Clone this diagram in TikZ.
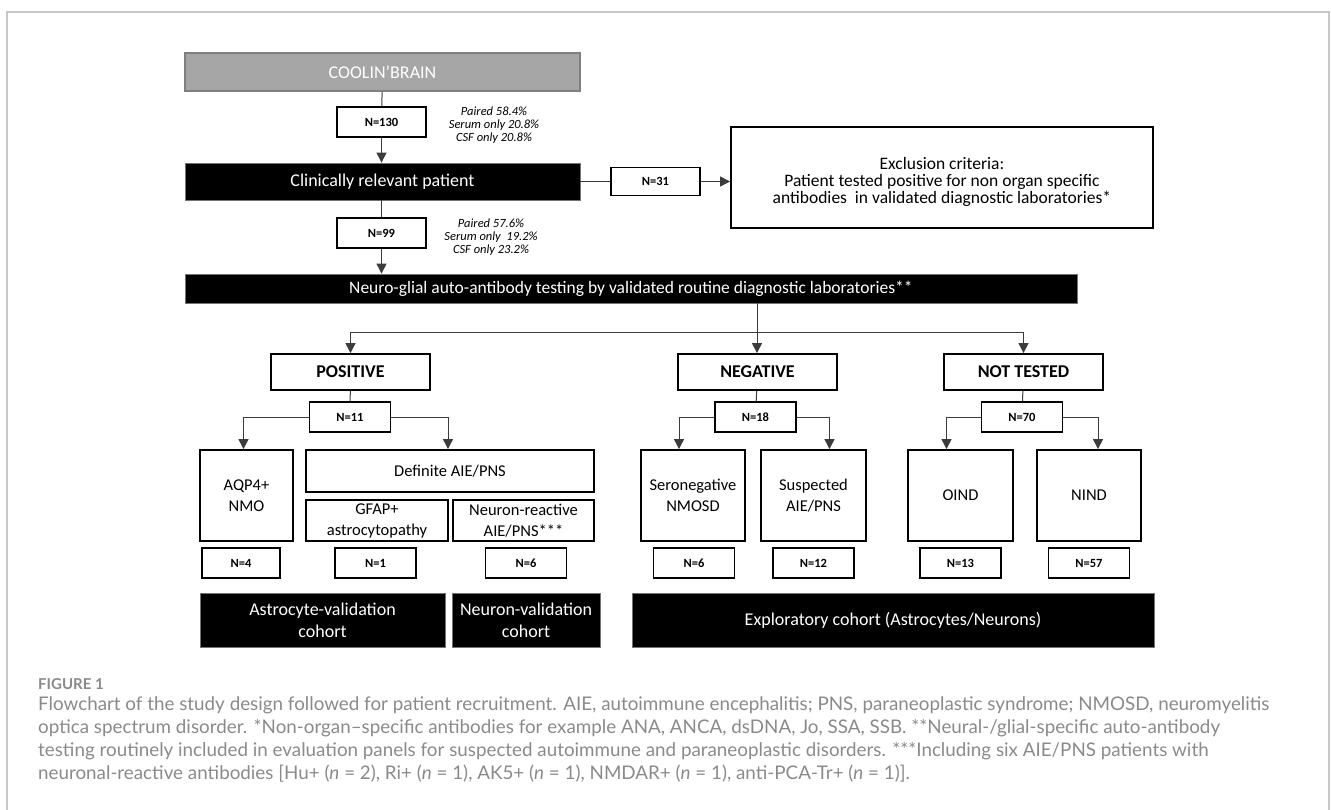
\documentclass[tikz,border=0pt]{standalone}
\usepackage{fontspec}
\setmainfont{Carlito}
\newfontfamily\capfont{Lato}
\usetikzlibrary{arrows.meta}
\definecolor{framegray}{RGB}{200,200,200}
\definecolor{boxgray}{RGB}{166,166,166}
\definecolor{edgegray}{RGB}{127,127,127}
\definecolor{linegray}{RGB}{60,60,60}
\definecolor{capgray}{RGB}{138,138,138}

\begin{document}
\begin{tikzpicture}[x=1pt,y=-1pt,
    every node/.style={inner sep=0pt, align=center},
    wbox/.style={draw=black, line width=1.8pt, fill=white, font=\fontsize{16.5}{21}\selectfont},
    nbox/.style={wbox, minimum width=81pt, minimum height=30pt, font=\bfseries\fontsize{12.5}{15}\selectfont},
    catbox/.style={wbox, minimum width=159pt, minimum height=36pt, font=\bfseries\fontsize{18}{21}\selectfont},
    leaf/.style={wbox, minimum height=91pt},
    bbar/.style={fill=black, draw=black!55, line width=0.8pt, text=white, font=\fontsize{18}{22}\selectfont},
    note/.style={font=\itshape\fontsize{12.5}{13}\selectfont},
    link/.style={draw=linegray, line width=1pt},
    arr/.style={link, -{Triangle[length=10pt,width=10pt]}}]
    \useasboundingbox (0,0) rectangle (1331,810);
    \draw [framegray, line width=1.5pt] (7,810) -- (7,12) -- (1329,12) -- (1329,810);
    % top column
    \node [fill=boxgray, draw=edgegray, line width=2pt, text=white, minimum width=395pt, minimum height=38pt, font=\fontsize{18}{22}\selectfont] (coolin) at (382.5,72) {COOLIN’BRAIN};
    \node [nbox, minimum width=89pt] (n130) at (381.5,122) {N=130};
    \node [note] (pctA) at (494,125) {Paired 58.4\%\\Serum only 20.8\%\\CSF only 20.8\%};
    \node [bbar, minimum width=395pt, minimum height=37pt] (clin) at (382.5,181.5) {Clinically relevant patient};
    \node [nbox, minimum width=89pt, minimum height=28pt] (n31) at (655.5,181.5) {N=31};
    \node [wbox, minimum width=422pt, minimum height=101pt, font=\fontsize{17.5}{17}\selectfont] (excl) at (942,177.5) {\mbox{}\\[5pt]Exclusion criteria:\\Patient tested positive for non organ specific\\antibodies\ \ in validated diagnostic laboratories*};
    \node [nbox, minimum width=89pt] (n99) at (381.5,233) {N=99};
    \node [note] (pctB) at (491,237) {Paired 57.6\%\\Serum only\ \ 19.2\%\\CSF only 23.2\%};
    \node [bbar, minimum width=892pt, minimum height=29pt, font=\fontsize{17.5}{20}\selectfont] (neuro) at (631,288.5) {Neuro-glial auto-antibody testing by validated routine diagnostic laboratories**};
    \coordinate (split) at (757,333);
    % categories
    \node [catbox] (pos) at (350.5,372) {POSITIVE};
    \node [catbox] (neg) at (757.5,372) {NEGATIVE};
    \node [catbox] (nott) at (1023.5,372) {NOT TESTED};
    \node [nbox] (n11) at (350,417) {N=11};
    \node [nbox] (n18) at (755.5,417) {N=18};
    \node [nbox] (n70) at (1022,417) {N=70};
    % leaves
    \node [leaf, minimum width=93pt] (aqp) at (246.5,495.5) {AQP4+\\NMO};
    \node [wbox, minimum width=288pt, minimum height=42pt] (defin) at (450,471) {Definite AIE/PNS};
    \node [wbox, minimum width=142pt, minimum height=41pt] (gfap) at (377,520.5) {GFAP+\\astrocytopathy};
    \node [wbox, minimum width=141pt, minimum height=41pt] (neurr) at (523.5,520.5) {Neuron-reactive\\AIE/PNS***};
    \node [leaf, minimum width=104pt] (seron) at (693,495.5) {Seronegative\\NMOSD};
    \node [leaf, minimum width=105pt] (susp) at (813.5,495.5) {Suspected\\AIE/PNS};
    \node [leaf, minimum width=105pt] (oind) at (960.5,495.5) {OIND};
    \node [leaf, minimum width=104pt] (nind) at (1089,495.5) {NIND};
    % counts
    \node [nbox, minimum width=78pt] (n4) at (241,563) {N=4};
    \node [nbox] (n1) at (375.5,563) {N=1};
    \node [nbox] (n6a) at (526,563) {N=6};
    \node [nbox] (n6b) at (694,563) {N=6};
    \node [nbox] (n12) at (813.5,563) {N=12};
    \node [nbox] (n13) at (960.5,563) {N=13};
    \node [nbox] (n57) at (1089,563) {N=57};
    % cohorts
    \node [bbar, minimum width=245pt, minimum height=54pt] (astro) at (322.5,620) {Astrocyte-validation\\cohort};
    \node [bbar, minimum width=148pt, minimum height=54pt] (neurc) at (526,620) {Neuron-validation\\cohort};
    \node [bbar, minimum width=522pt, minimum height=54pt] (explo) at (893,620) {Exploratory cohort (Astrocytes/Neurons)};
    % connectors
    \draw [link] (coolin) -- (n130);
    \draw [arr] (n130) -- (n130 |- clin.north);
    \draw [link] (clin.east) -- (n31.west);
    \draw [arr] (n31.east) -- (excl.west |- n31.east);
    \draw [link] (n99 |- clin.south) -- (n99);
    \draw [arr] (n99) -- (n99 |- neuro.north);
    \draw [link] (neuro.south -| split) -- (split);
    \draw [arr] (split) -| (pos.north);
    \draw [arr] (split) -- (split |- neg.north);
    \draw [arr] (split) -| (nott.north);
    \draw [link] (pos) -- (n11);
    \draw [link] (neg) -- (n18);
    \draw [link] (nott) -- (n70);
    \draw [arr] (n11.west) -| ([xshift=-3pt]aqp.north);
    \draw [arr] (n11.east) -| ([xshift=-2pt]defin.north);
    \draw [arr] (n18.west) -| ([xshift=-14pt]seron.north);
    \draw [arr] (n18.east) -| ([xshift=16pt]susp.north);
    \draw [arr] (n70.west) -| ([xshift=-14pt]oind.north);
    \draw [arr] (n70.east) -| ([xshift=9pt]nind.north);
    % caption
    \node [anchor=west, text=capgray, font=\capfont\bfseries\fontsize{15}{18}\selectfont] (figno) at (38,684) {FIGURE 1};
    \node [anchor=north west, align=left, text=capgray, font=\capfont\fontsize{18.8}{23.3}\selectfont] (capt) at (38,696) {Flowchart of the study design followed for patient recruitment. AIE, autoimmune encephalitis; PNS, paraneoplastic syndrome; NMOSD, neuromyelitis\\
    optica spectrum disorder. *Non-organ–specific antibodies for example ANA, ANCA, dsDNA, Jo, SSA, SSB. **Neural-/glial-specific auto-antibody\\
    testing routinely included in evaluation panels for suspected autoimmune and paraneoplastic disorders. ***Including six AIE/PNS patients with\\
    neuronal-reactive antibodies [Hu+ (\textit{n} = 2), Ri+ (\textit{n} = 1), AK5+ (\textit{n} = 1), NMDAR+ (\textit{n} = 1), anti-PCA-Tr+ (\textit{n} = 1)].};
\end{tikzpicture}
\end{document}
